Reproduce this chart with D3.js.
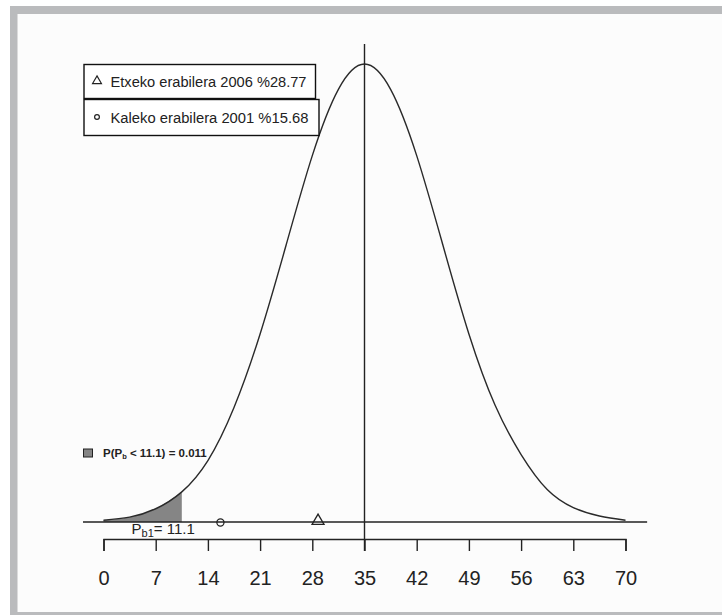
<!DOCTYPE html>
<html>
<head>
<meta charset="utf-8">
<script src="https://cdn.jsdelivr.net/npm/d3@7"></script>
<style>
  body { margin: 0; background: #fff; }
  svg { display: block; font-family: "Liberation Sans", Arial, sans-serif; }
</style>
</head>
<body>
<svg id="chart" width="722" height="615"></svg>
<script>
// x positions where the curve height was read, and the heights (density)
const curveX = [0, 3.5, 7, 10.5, 14, 17.5, 21, 24.5, 28, 31.5, 35,
                38.5, 42, 45.5, 49, 52.5, 56, 59.5, 63, 66.5, 70];
const curveY = [0.00015, 0.0004, 0.0011, 0.0025, 0.0051, 0.0095, 0.0156, 0.0230, 0.0304, 0.0359, 0.0380,
                0.0359, 0.0304, 0.0230, 0.0156, 0.0097, 0.0056, 0.0027, 0.0012, 0.0005, 0.00015];
const tickValues = [0, 7, 14, 21, 28, 35, 42, 49, 56, 63, 70];
const meanValue = 35;
const shadeEnd = 10.5;
const pb1 = 11.1;
const pbProb = 0.011;
const legendItems = [
  { symbol: "triangle", label: "Etxeko erabilera 2006 %28.77", value: 28.77 },
  { symbol: "circle", label: "Kaleko erabilera 2001 %15.68", value: 15.68 }
];

const svg = d3.select("#chart");

// frame
svg.append("rect").attr("x", 10).attr("y", 6).attr("width", 720).attr("height", 620).attr("fill", "#babbbd");
svg.append("rect").attr("x", 17.5).attr("y", 14).attr("width", 720).attr("height", 598).attr("fill", "#fcfcfc");

const x = d3.scaleLinear().domain([0, 70]).range([103.5, 625.5]);
const y = d3.scaleLinear().domain([0, 0.038]).range([522, 64]);

const pts = curveX.map((v, i) => [v, curveY[i]]);

// shaded tail
const area = d3.area()
  .x(d => x(d[0]))
  .y0(y(0))
  .y1(d => y(d[1]))
  .curve(d3.curveNatural);
svg.append("path")
  .datum(pts.filter(d => d[0] <= shadeEnd))
  .attr("d", area)
  .attr("fill", "#858585");

// baseline
svg.append("line")
  .attr("x1", x(-2.75)).attr("x2", x(72.9))
  .attr("y1", y(0)).attr("y2", y(0))
  .attr("stroke", "#222").attr("stroke-width", 1.3);

// density curve
const line = d3.line()
  .x(d => x(d[0]))
  .y(d => y(d[1]))
  .curve(d3.curveNatural);
svg.append("path")
  .datum(pts)
  .attr("d", line)
  .attr("fill", "none")
  .attr("stroke", "#2a2a2a")
  .attr("stroke-width", 1.4);

// mean line
svg.append("line")
  .attr("x1", x(meanValue)).attr("x2", x(meanValue))
  .attr("y1", 44).attr("y2", 551)
  .attr("stroke", "#222").attr("stroke-width", 1.4);

// x axis
const axis = svg.append("g")
  .attr("transform", "translate(0,539)")
  .call(d3.axisBottom(x).tickValues(tickValues).tickSize(12).tickPadding(20).tickFormat(d3.format("d")));
axis.selectAll("path, line").attr("stroke", "#222").attr("stroke-width", 1.4);
axis.selectAll("text")
  .attr("fill", "#222")
  .style("font-size", "20px")
  .style("font-family", "'Liberation Sans', Arial, sans-serif");

// points on baseline
const symbolFor = s => s === "triangle"
  ? d3.symbol().type(d3.symbolTriangle).size(62)
  : d3.symbol().type(d3.symbolCircle).size(40);

legendItems.forEach(d => {
  svg.append("path")
    .attr("d", symbolFor(d.symbol)())
    .attr("transform", `translate(${x(d.value)},${d.symbol === "triangle" ? 521 : 522.5})`)
    .attr("fill", "none")
    .attr("stroke", "#222")
    .attr("stroke-width", 1.3);
});

// legend boxes
const boxes = [
  { x: 84, y: 64.5, w: 231.5, h: 34, tw: 196 },
  { x: 84, y: 99.5, w: 235, h: 36, tw: 198 }
];
legendItems.forEach((d, i) => {
  const b = boxes[i];
  svg.append("rect")
    .attr("x", b.x).attr("y", b.y).attr("width", b.w).attr("height", b.h)
    .attr("fill", "#fff").attr("stroke", "#111").attr("stroke-width", 1.4);
  const sym = d.symbol === "triangle"
    ? d3.symbol().type(d3.symbolTriangle).size(34)
    : d3.symbol().type(d3.symbolCircle).size(18);
  svg.append("path")
    .attr("d", sym())
    .attr("transform", `translate(97,${b.y + b.h / 2 - 0.5})`)
    .attr("fill", "none").attr("stroke", "#222").attr("stroke-width", 1.2);
  svg.append("text")
    .attr("x", 110.5).attr("y", b.y + b.h / 2 + 5.5)
    .attr("fill", "#222")
    .attr("textLength", b.tw)
    .attr("lengthAdjust", "spacingAndGlyphs")
    .style("font-size", "15.5px")
    .text(d.label);
});

// probability legend
svg.append("rect")
  .attr("x", 83.5).attr("y", 449).attr("width", 9).attr("height", 8)
  .attr("fill", "#858585").attr("stroke", "#222").attr("stroke-width", 1);
const pt = svg.append("text")
  .attr("x", 103).attr("y", 457)
  .attr("fill", "#222")
  .style("font-size", "11.5px")
  .style("font-weight", "bold");
pt.append("tspan").text("P(P");
pt.append("tspan").attr("dy", 2).style("font-size", "7.5px").text("b");
pt.append("tspan").attr("dy", -2).text(` < ${pb1}) = ${pbProb}`);

// P_b1 label
const pl = svg.append("text")
  .attr("x", 131.5).attr("y", 534)
  .attr("fill", "#222")
  .style("font-size", "15px");
pl.append("tspan").text("P");
pl.append("tspan").attr("dy", 3).style("font-size", "11px").text("b1");
pl.append("tspan").attr("dy", -3).text(`= ${pb1}`);
</script>
</body>
</html>
